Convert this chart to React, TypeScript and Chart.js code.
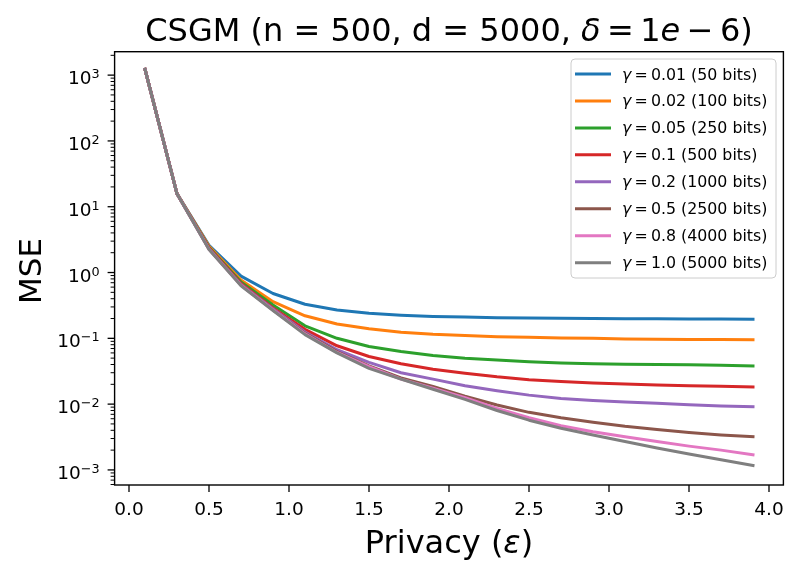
import { useEffect, useRef } from 'react'
import { Chart, registerables } from 'chart.js'

Chart.register(...registerables)

// privacy budget epsilon
const epsilons = [0.1, 0.3, 0.5, 0.7, 0.9, 1.1, 1.3, 1.5, 1.7, 1.9, 2.1, 2.3, 2.5, 2.7, 2.9, 3.1, 3.3, 3.5, 3.7, 3.9]

const gammaLabels = ['0.01', '0.02', '0.05', '0.1', '0.2', '0.5', '0.8', '1.0']
const bits = [50, 100, 250, 500, 1000, 2500, 4000, 5000]

const mse001 = [1230, 15.8, 2.6, 0.88, 0.48, 0.33, 0.27, 0.24, 0.225, 0.215, 0.21, 0.206, 0.203, 0.201, 0.2, 0.199, 0.198, 0.197, 0.196, 0.195]
const mse002 = [1230, 15.8, 2.5, 0.77, 0.36, 0.22, 0.165, 0.14, 0.124, 0.115, 0.11, 0.106, 0.104, 0.101, 0.1, 0.098, 0.097, 0.096, 0.096, 0.095]
const mse005 = [1230, 15.7, 2.4, 0.72, 0.32, 0.155, 0.1, 0.075, 0.063, 0.055, 0.05, 0.047, 0.044, 0.042, 0.041, 0.0405, 0.04, 0.0395, 0.039, 0.038]
const mse01 = [1230, 15.7, 2.35, 0.68, 0.29, 0.137, 0.077, 0.053, 0.041, 0.034, 0.0295, 0.026, 0.0235, 0.022, 0.021, 0.0203, 0.0196, 0.019, 0.0187, 0.0183]
const mse02 = [1230, 15.7, 2.3, 0.66, 0.28, 0.125, 0.067, 0.043, 0.03, 0.024, 0.019, 0.016, 0.0137, 0.0122, 0.0114, 0.0108, 0.0103, 0.0098, 0.0094, 0.0091]
const mse05 = [1230, 15.7, 2.28, 0.65, 0.27, 0.12, 0.063, 0.038, 0.025, 0.0185, 0.0132, 0.0097, 0.0075, 0.0062, 0.0053, 0.0046, 0.0041, 0.0037, 0.0034, 0.0032]
const mse08 = [1230, 15.7, 2.26, 0.64, 0.27, 0.117, 0.061, 0.037, 0.024, 0.0175, 0.0125, 0.0086, 0.0062, 0.0047, 0.0038, 0.0032, 0.0027, 0.0023, 0.002, 0.0017]
const mse10 = [1230, 15.7, 2.24, 0.63, 0.265, 0.114, 0.06, 0.035, 0.024, 0.0168, 0.0118, 0.008, 0.0057, 0.0043, 0.0034, 0.0027, 0.00215, 0.00175, 0.00143, 0.00117]

const allSeries = [mse001, mse002, mse005, mse01, mse02, mse05, mse08, mse10]
const colors = ['#1f77b4', '#ff7f0e', '#2ca02c', '#d62728', '#9467bd', '#8c564b', '#e377c2', '#7f7f7f']

const xTicks = [0, 0.5, 1, 1.5, 2, 2.5, 3, 3.5, 4]
const yMajorTicks = [1e-3, 1e-2, 1e-1, 1, 10, 100, 1000]

const FONT = "'DejaVu Sans', sans-serif"
const Y_MIN = 5.9e-4
const Y_MAX = 2270

type Seg = { t: string; i?: boolean }

function drawRich(ctx: CanvasRenderingContext2D, segs: Seg[], size: number, x: number, y: number, align: 'left' | 'center') {
  const fontOf = (s: Seg) => `${s.i ? 'italic ' : ''}${size}px ${FONT}`
  let total = 0
  for (const s of segs) {
    ctx.font = fontOf(s)
    total += ctx.measureText(s.t).width
  }
  let cx = align === 'center' ? x - total / 2 : x
  ctx.textAlign = 'left'
  ctx.textBaseline = 'alphabetic'
  for (const s of segs) {
    ctx.font = fontOf(s)
    ctx.fillText(s.t, cx, y)
    cx += ctx.measureText(s.t).width
  }
}

const decorations = {
  id: 'decorations',
  afterDraw(chart: any) {
    const { ctx, chartArea: a, scales } = chart
    const xs = scales.x
    const ys = scales.y
    ctx.save()
    ctx.fillStyle = '#000'
    ctx.strokeStyle = '#000'

    // spines
    ctx.lineWidth = 1.4
    ctx.strokeRect(a.left, a.top, a.right - a.left, a.bottom - a.top)

    // x ticks + labels
    ctx.lineWidth = 1.3
    for (const t of xs.ticks) {
      const px = xs.getPixelForValue(t.value)
      ctx.beginPath()
      ctx.moveTo(px, a.bottom)
      ctx.lineTo(px, a.bottom + 7)
      ctx.stroke()
      ctx.font = `18.5px ${FONT}`
      ctx.textAlign = 'center'
      ctx.textBaseline = 'alphabetic'
      ctx.fillText(t.value.toFixed(1), px, 515)
    }

    // y ticks + labels
    for (const t of ys.ticks) {
      const py = ys.getPixelForValue(t.value)
      const len = t.major ? 7 : 4
      ctx.lineWidth = t.major ? 1.3 : 1
      ctx.beginPath()
      ctx.moveTo(a.left - len, py)
      ctx.lineTo(a.left, py)
      ctx.stroke()
      if (t.major) {
        const exp = String(Math.round(Math.log10(t.value))).replace('-', '\u2212')
        ctx.textBaseline = 'alphabetic'
        ctx.textAlign = 'left'
        ctx.font = `12.8px ${FONT}`
        const we = ctx.measureText(exp).width
        ctx.font = `18.5px ${FONT}`
        const wb = ctx.measureText('10').width
        const right = a.left - 15
        ctx.fillText('10', right - we - wb, py + 9)
        ctx.font = `12.8px ${FONT}`
        ctx.fillText(exp, right - we, py + 3)
      }
    }

    // title and axis labels
    drawRich(ctx, [{ t: 'CSGM (n = 500, d = 5000, ' }, { t: '\u03b4', i: true }, { t: '\u2009=\u20091' }, { t: 'e', i: true }, { t: '\u2009\u2212\u20096' }, { t: ')' }], 32, (a.left + a.right) / 2, 41, 'center')
    drawRich(ctx, [{ t: 'Privacy (' }, { t: '\u03b5', i: true }, { t: ')' }], 32, (a.left + a.right) / 2, 553, 'center')
    ctx.save()
    ctx.translate(41, 271)
    ctx.rotate(-Math.PI / 2)
    drawRich(ctx, [{ t: 'MSE' }], 31, 0, 0, 'center')
    ctx.restore()

    // legend
    const bx = 571, by = 59, bw = 205, bh = 219
    ctx.beginPath()
    ctx.roundRect(bx, by, bw, bh, 4)
    ctx.fillStyle = 'rgba(255,255,255,0.8)'
    ctx.fill()
    ctx.strokeStyle = '#cccccc'
    ctx.lineWidth = 1
    ctx.stroke()
    chart.data.datasets.forEach((ds: any, i: number) => {
      const ry = 74 + i * 26.95
      ctx.strokeStyle = ds.borderColor
      ctx.lineWidth = 3
      ctx.lineCap = 'butt'
      ctx.beginPath()
      ctx.moveTo(575, ry)
      ctx.lineTo(611, ry)
      ctx.stroke()
      ctx.fillStyle = '#000'
      drawRich(ctx, [{ t: '\u03b3', i: true }, { t: `\u2009=\u2009${gammaLabels[i]} (${bits[i]} bits)` }], 15.8, 622, ry + 5.5, 'left')
    })
    ctx.restore()
  },
}

export default function App() {
  const canvasRef = useRef<HTMLCanvasElement>(null)

  useEffect(() => {
    if (!canvasRef.current) return
    const n = allSeries.length
    const chart = new Chart(canvasRef.current, {
      type: 'line',
      data: {
        datasets: allSeries.map((vals, i) => ({
          label: `\u03b3 = ${gammaLabels[i]} (${bits[i]} bits)`,
          data: epsilons.map((e, j) => ({ x: e, y: vals[j] })),
          borderColor: colors[i],
          backgroundColor: colors[i],
          borderWidth: 3,
          pointRadius: 0,
          tension: 0,
          fill: false,
          order: n - i,
          borderCapStyle: 'square',
          borderJoinStyle: 'round',
        })),
      },
      options: {
        responsive: false,
        animation: false,
        events: [],
        layout: { padding: { left: 114.6, right: 15.6, top: 51.7, bottom: 91 } },
        plugins: {
          legend: { display: false },
          tooltip: { enabled: false },
        },
        scales: {
          x: {
            type: 'linear',
            min: -0.09,
            max: 4.09,
            afterBuildTicks: (scale: any) => {
              scale.ticks = xTicks.map(v => ({ value: v }))
            },
            ticks: { display: false },
            grid: { display: false, drawTicks: false },
            border: { display: false },
          },
          y: {
            type: 'logarithmic',
            min: Y_MIN,
            max: Y_MAX,
            afterBuildTicks: (scale: any) => {
              const ticks: any[] = []
              for (const m of yMajorTicks) {
                ticks.push({ value: m, major: true })
                for (let k = 2; k <= 9; k++) ticks.push({ value: m * k, major: false })
                if (m === yMajorTicks[0]) for (let k = 2; k <= 9; k++) ticks.push({ value: (m / 10) * k, major: false })
              }
              scale.ticks = ticks.filter(t => t.value >= Y_MIN && t.value <= Y_MAX)
            },
            ticks: { display: false },
            grid: { display: false, drawTicks: false },
            border: { display: false },
          },
        },
      },
      plugins: [decorations],
    } as any)

    return () => chart.destroy()
  }, [])

  return (
    <div style={{ position: 'absolute', left: 0, top: 0, width: 799, height: 576, background: '#fff' }}>
      <canvas ref={canvasRef} width={799} height={576} style={{ width: 799, height: 576 }} />
    </div>
  )
}
